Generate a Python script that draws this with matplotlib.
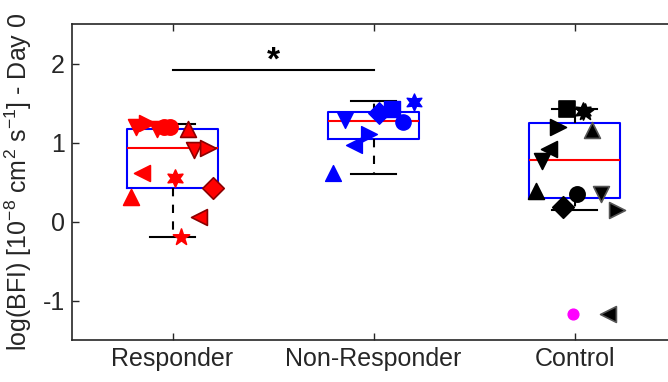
import matplotlib
matplotlib.use("Agg")
import matplotlib.pyplot as plt

plt.rcParams['font.family'] = ['Liberation Sans', 'DejaVu Sans']
plt.rcParams['axes.unicode_minus'] = False
plt.rcParams['mathtext.fontset'] = 'custom'
plt.rcParams['mathtext.rm'] = 'Liberation Sans'
plt.rcParams['mathtext.it'] = 'Liberation Sans'
plt.rcParams['mathtext.default'] = 'regular'

HEX = (6, 1, 0)  # six-point star

groups = ["Responder", "Non-Responder", "Control"]

# box stats per group: lower cap, q1, median, q3, upper cap
whislo = [-0.19, 0.60, 0.15]
q1 = [0.43, 1.04, 0.30]
med = [0.93, 1.27, 0.78]
q3 = [1.17, 1.39, 1.25]
whishi = [1.24, 1.52, 1.43]

# individual subjects (jittered x, value, marker, edge)
resp_x = [0.82, 0.875, 0.925, 0.96, 0.99, 1.075, 1.105, 1.175, 0.85, 1.01, 1.2, 0.795, 1.13, 1.04]
resp_y = [1.19, 1.25, 1.17, 1.2, 1.2, 1.17, 0.91, 0.93, 0.61, 0.55, 0.42, 0.31, 0.06, -0.19]
resp_m = ['v', '>', 'v', 'o', 'o', '^', 'v', '>', '<', HEX, 'D', '^', '<', '*']
resp_dark = [0, 0, 0, 0, 0, 1, 1, 1, 0, 0, 1, 0, 1, 0]

nonr_x = [2.2, 2.09, 2.025, 2.145, 1.86, 1.98, 1.905, 1.80]
nonr_y = [1.51, 1.43, 1.37, 1.26, 1.28, 1.11, 0.97, 0.61]
nonr_m = [HEX, 's', 'D', 'o', 'v', '>', '<', '^']

ctrl_x = [2.965, 3.05, 3.04, 2.92, 3.085, 2.875, 2.84, 2.81, 3.01, 3.13, 2.945, 3.21]
ctrl_y = [1.42, 1.38, 1.4, 1.19, 1.16, 0.92, 0.76, 0.39, 0.35, 0.35, 0.18, 0.15]
ctrl_m = ['s', '*', HEX, '>', '^', '<', 'v', '^', 'o', 'v', 'D', '>']
ctrl_dark = [0, 0, 0, 0, 1, 0, 0, 0, 0, 1, 0, 1]

# control outliers
out_x = [2.995, 3.165]
out_y = [-1.17, -1.17]


def msize(m):
    if m == '*' or m == HEX:
        return 150
    if m in ('o', 's', 'D'):
        return 120
    return 130


fig = plt.figure(figsize=(6.68, 3.82), dpi=100)
ax = fig.add_axes([72 / 668, 42 / 382, 603 / 668, 316 / 382])

stats = []
for i in range(3):
    stats.append(dict(whislo=whislo[i], q1=q1[i], med=med[i], q3=q3[i],
                      whishi=whishi[i], fliers=[]))
ax.bxp(stats, positions=[1, 2, 3], widths=0.45, capwidths=0.22, showfliers=False,
       patch_artist=False,
       boxprops=dict(color='blue', linewidth=1.5),
       medianprops=dict(color='red', linewidth=1.5),
       whiskerprops=dict(color='black', linestyle=(0, (4, 4)), linewidth=1.5),
       capprops=dict(color='black', linewidth=1.5), zorder=2)

for x, y, m, d in zip(resp_x, resp_y, resp_m, resp_dark):
    ax.scatter(x, y, marker=m, s=msize(m),
               color='red', edgecolors='#8b0000' if d else 'red', linewidths=1.2, zorder=3)
for x, y, m in zip(nonr_x, nonr_y, nonr_m):
    ax.scatter(x, y, marker=m, s=msize(m),
               color='blue', edgecolors='blue', zorder=3)
for x, y, m, d in zip(ctrl_x, ctrl_y, ctrl_m, ctrl_dark):
    ax.scatter(x, y, marker=m, s=msize(m),
               color='black', edgecolors='#555555' if d else 'black', linewidths=1.2, zorder=3)

ax.scatter(out_x[0], out_y[0], marker='o', s=60, color='magenta', zorder=3)
ax.scatter(out_x[1], out_y[1], marker='<', s=130, color='black', edgecolors='#555555',
           linewidths=1.2, zorder=3)

# significance bar
ax.plot([1, 2], [1.92, 1.92], color='black', linewidth=1.5)
ax.text(1.5, 2.03, '*', ha='center', va='center', fontsize=24, fontweight='bold')

ax.set_xlim(0.5, 3.5)
ax.set_ylim(-1.5, 2.5)
ax.set_yticks([-1, 0, 1, 2])
ax.set_xticks([1, 2, 3])
ax.set_xticklabels(groups)
ax.tick_params(direction='in', top=True, right=True, labelsize=18, colors='#262626',
               length=5, width=1, pad=5)
for s in ax.spines.values():
    s.set_color('#262626')
    s.set_linewidth(1.2)
ax.set_ylabel('log(BFI) [10$^{-8}$ cm$^2$ s$^{-1}$] - Day 0', fontsize=18, color='#262626',
              labelpad=6)

fig.savefig("out.png", dpi=100)
